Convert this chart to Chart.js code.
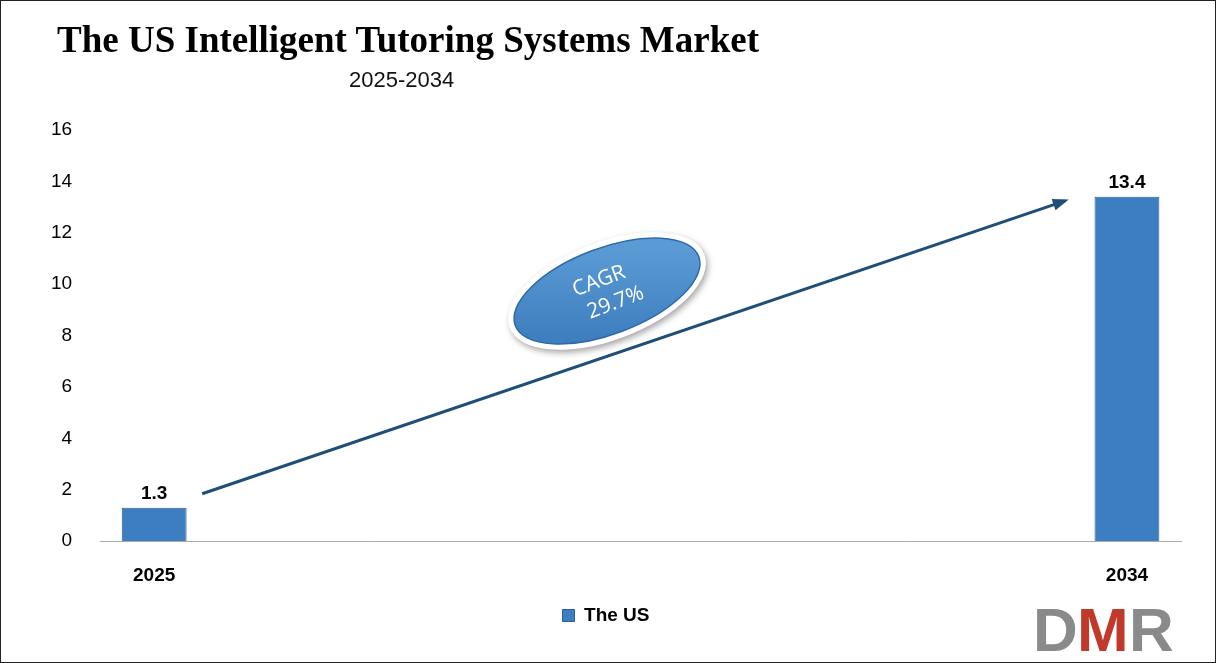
<!DOCTYPE html>
<html><head><meta charset="utf-8">
<script src="https://cdn.jsdelivr.net/npm/chart.js@4/dist/chart.umd.min.js"></script>
<style>
html,body{margin:0;padding:0;background:#fff;}
#wrap{position:absolute;left:0;top:0;width:1214px;height:661px;border:1px solid #222;}
#title{position:absolute;left:56px;top:17px;font:bold 37px "Liberation Serif",serif;color:#000;}
#sub{position:absolute;left:348px;top:66px;font:22px "Liberation Sans",Arial,sans-serif;color:#111;}
#c{position:absolute;left:0;top:0;}
</style></head><body>
<div id="wrap"><canvas id="c" width="1214" height="661"></canvas>
<div id="title">The US Intelligent Tutoring Systems Market</div>
<div id="sub">2025-2034</div></div>
<script>
const categories=["2025","2026","2027","2028","2029","2030","2031","2032","2033","2034"];
const shownLabels=["2025","2034"];
const values=[1.3,null,null,null,null,null,null,null,null,13.4];
const seriesName="The US";
const cagrText=["CAGR","29.7%"];
const yTicks={min:0,max:16,step:2};

const deco={id:'deco',afterDatasetsDraw(ch){
 const c=ch.ctx,x=ch.scales.x,y=ch.scales.y;
 const x0=x.getPixelForValue(0)+48,y0=y.getPixelForValue(values[0])-14;
 const x1=x.getPixelForValue(9)-62,y1=y.getPixelForValue(values[9])+4;
 c.save();c.strokeStyle='#1f4e79';c.fillStyle='#1f4e79';c.lineWidth=3;
 c.beginPath();c.moveTo(x0,y0);c.lineTo(x1,y1);c.stroke();
 const a=Math.atan2(y1-y0,x1-x0);
 c.beginPath();c.moveTo(x1+4*Math.cos(a),y1+4*Math.sin(a));
 c.lineTo(x1-12*Math.cos(a)+6*Math.sin(a),y1-12*Math.sin(a)-6*Math.cos(a));
 c.lineTo(x1-12*Math.cos(a)-6*Math.sin(a),y1-12*Math.sin(a)+6*Math.cos(a));c.fill();
 const ex=606,ey=290,rot=-0.36;
 c.shadowColor='rgba(0,0,0,0.35)';c.shadowBlur=6;c.shadowOffsetX=2;c.shadowOffsetY=3;
 c.beginPath();c.ellipse(ex,ey,104,49,rot,0,Math.PI*2);c.fillStyle='#fff';c.fill();
 c.shadowColor='transparent';
 c.beginPath();c.ellipse(ex,ey,98,43,rot,0,Math.PI*2);
 const g=c.createLinearGradient(ex,ey-45,ex,ey+45);g.addColorStop(0,'#5b9bd5');g.addColorStop(1,'#3f7fbf');
 c.fillStyle=g;c.fill();c.strokeStyle='#2e6aa8';c.lineWidth=1.5;c.stroke();
 c.translate(ex,ey);c.rotate(rot);c.fillStyle='#fff';c.font='21px "Open Sans",Arial';c.textAlign='center';c.textBaseline='middle';
 c.fillText(cagrText[0],-4,-12);c.fillText(cagrText[1],4,14);
 c.restore();
 c.save();c.font='bold 19px "Liberation Sans",Arial';c.fillStyle='#000';c.textAlign='center';
 values.forEach((v,i)=>{if(v!=null)c.fillText(v.toFixed(1),x.getPixelForValue(i),y.getPixelForValue(v)-14);});
 c.font='bold 62px "Liberation Sans",Arial';c.textAlign='left';c.textBaseline='alphabetic';
 c.fillStyle='#8a8a8a';c.fillText('D',1032,650);c.fillStyle='#c0392b';c.fillText('M',1076,650);c.fillStyle='#8a8a8a';c.fillText('R',1128,650);
 c.restore();
}};
new Chart(document.getElementById('c'),{type:'bar',
 data:{labels:categories,datasets:[{label:seriesName,data:values,backgroundColor:'#3d7ec3',borderColor:'#2a5f9a',borderWidth:1,barPercentage:0.6,categoryPercentage:1}]},
 options:{responsive:false,animation:false,
  layout:{padding:{left:30,right:34,top:129,bottom:27}},
  plugins:{legend:{position:'bottom',labels:{boxWidth:12,boxHeight:12,color:'#000',font:{size:19,weight:'bold',family:'"Liberation Sans",Arial'},padding:4}},tooltip:{enabled:false}},
  scales:{x:{grid:{display:false},border:{color:'#aaa'},ticks:{color:'#000',autoSkip:false,maxRotation:0,padding:15,font:{size:19,weight:'bold',family:'"Liberation Sans",Arial'},callback:(v,i)=>shownLabels.includes(categories[i])?categories[i]:''}},
   y:{min:yTicks.min,max:yTicks.max,grid:{display:false},border:{display:false},ticks:{stepSize:yTicks.step,color:'#000',padding:20,font:{size:19,family:'"Liberation Sans",Arial'}}}}},
 plugins:[deco]});
</script></body></html>
